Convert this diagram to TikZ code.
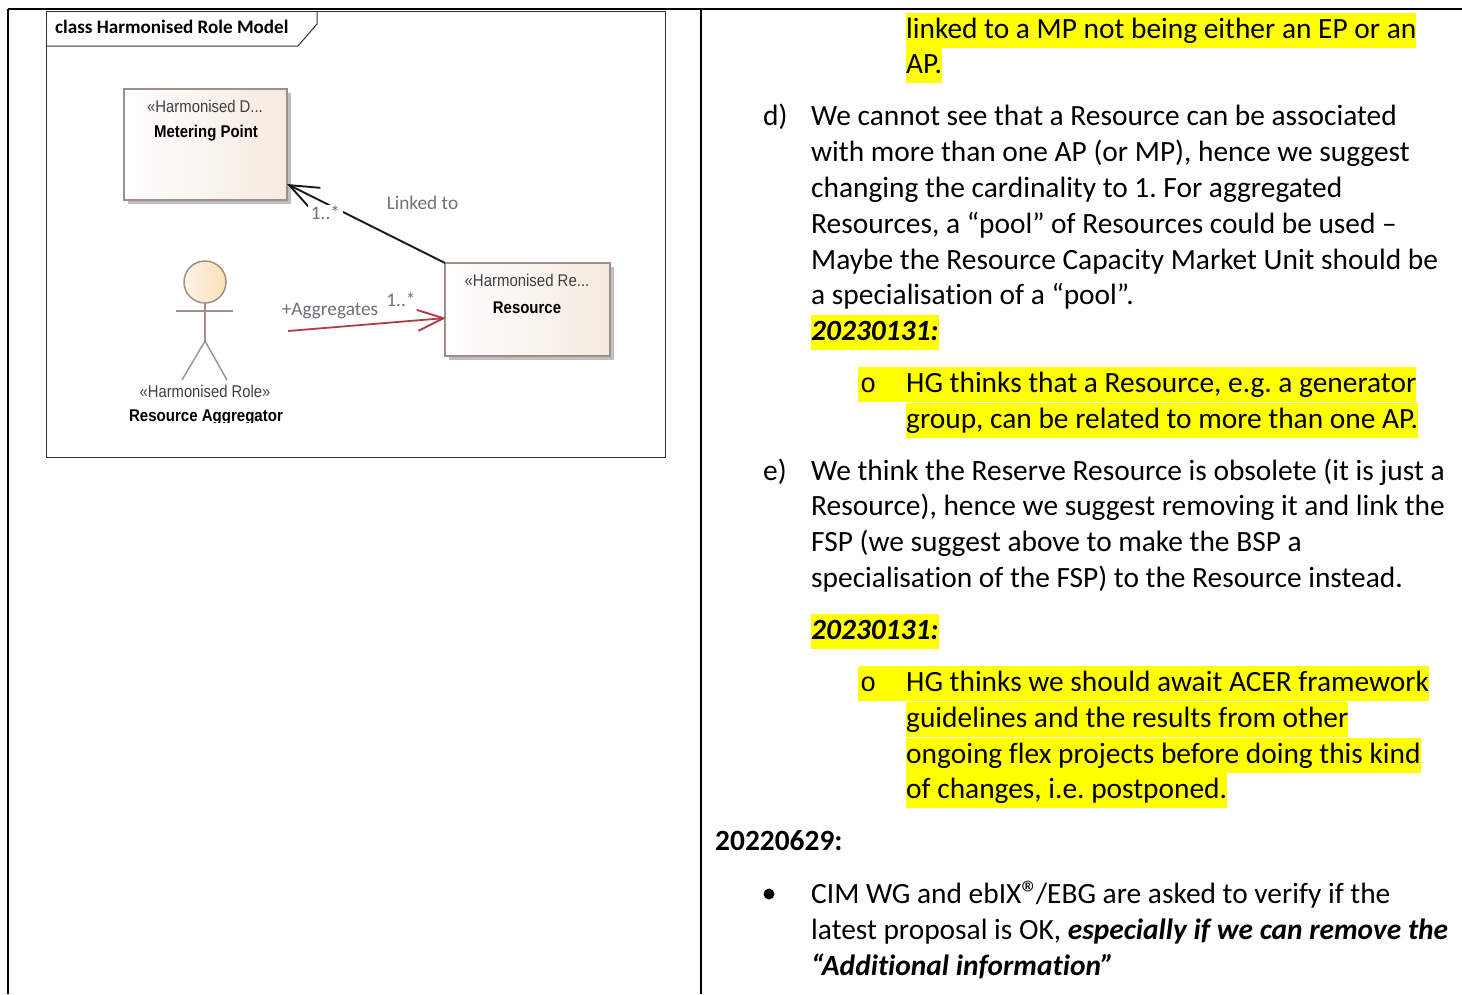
\documentclass[tikz,border=0pt]{standalone}
\usepackage{fontspec}
\setmainfont[Ligatures={NoCommon,TeX}]{Carlito}
\newfontfamily\umlfont{Liberation Sans}
\newfontfamily\monof{Liberation Mono}
\usetikzlibrary{arrows.meta,calc}
\definecolor{hly}{HTML}{FFFF00}
\definecolor{umlb}{HTML}{A08E8A}
\definecolor{umll}{HTML}{F5EADF}
\definecolor{headl}{HTML}{FDF3E6}
\definecolor{headr}{HTML}{FBE0B8}
\definecolor{lbl}{HTML}{6E7075}
\definecolor{redc}{HTML}{B23C46}
\newcommand{\bodysize}{\fontsize{29.4pt}{35.8pt}\selectfont}
\frenchspacing
\tikzset{
  txt/.style={anchor=base west,inner sep=0pt,font=\bodysize,text=black,yshift=-0.5pt},
  hl/.style={txt,fill=hly,text height=26pt,text depth=9pt},
  umlbox/.style={draw=umlb,line width=1.5pt,left color=white,right color=umll,minimum width=#1,anchor=north west,inner sep=0pt,outer sep=0pt},
  ster/.style={inner sep=0pt,font=\umlfont\fontsize{17pt}{20pt}\selectfont,text=black!75},
  nm/.style={inner sep=0pt,font=\umlfont\bfseries\fontsize{17pt}{20pt}\selectfont,text=black},
  lab/.style={inner sep=0pt,font=\fontsize{19.3pt}{22pt}\selectfont,text=lbl},
  tline/.style={line width=1.5pt,black},
  actor/.style={draw=umlb,line width=1.4pt}
}
\begin{document}
\begin{tikzpicture}[x=1pt,y=-1pt]
\useasboundingbox (0,0) rectangle (1462,994);
% table rules
\coordinate (tl) at (8,9);\coordinate (tr) at (1462,9);\coordinate (bl) at (8,994);
\coordinate (mt) at (701,9);\coordinate (mb) at (701,994);
\draw[tline] (tl) -- (tr);
\draw[tline] (tl) -- (bl);
\draw[tline] (mt) -- (mb);
% frame
\draw[line width=1pt,black!80] (46,11) rectangle (665,457);
\draw[line width=1pt,black!80] (46,46) -- (298,46) -- (317,24) -- (317,11);
\node[anchor=base west,inner sep=0pt,font=\bfseries\fontsize{19.1pt}{22pt}\selectfont] (title) at (55,33) {class Harmonised Role Model};
% boxes
\fill[black!25] (128,93) rectangle (291,204);
\fill[black!25] (449,267) rectangle (614,360);
\node[umlbox=163pt,minimum height=111pt] (mp) at (124,89) {};
\node[umlbox=165pt,minimum height=93pt] (res) at (445,263) {};
\node[ster] (mpS) at (205,106.5) {\scalebox{.875}[1]{«Harmonised D...}};
\node[nm] (mpN) at (206,133) {\scalebox{.88}[1]{Metering Point}};
\node[ster] (resS) at (527,280.5) {\scalebox{.88}[1]{«Harmonised Re...}};
\node[nm] (resN) at (527,308) {\scalebox{.88}[1]{Resource}};
% actor
\node[circle,draw=umlb,line width=1.5pt,minimum size=42pt,inner sep=0pt,left color=headl,right color=headr,outer sep=0pt] (head) at (205,282) {};
\coordinate (hip) at (205,341);
\coordinate (armL) at (176,311);\coordinate (armR) at (233,311);
\coordinate (legL) at (182,380);\coordinate (legR) at (227,380);
\draw[actor] (head.south) -- (hip);
\draw[actor] (armL) -- (armR);
\draw[actor] (legL) -- (hip) -- (legR);
\node[ster] (actS) at (205,391) {\scalebox{.87}[1]{«Harmonised Role»}};
\begin{scope}
\clip (100,405) rectangle (320,422);
\node[nm] (actN) at (206,417) {\scalebox{.885}[1]{Resource Aggregator}};
\end{scope}
% connectors
\coordinate (mpTip) at (287,184);
\coordinate (resTip) at (446,318);
\coordinate (aggStart) at (288,331);
\draw[line width=1.8pt,black!90,-{Straight Barb[length=29pt,width=23pt,line width=1.9pt]}] (res.north west) -- (mpTip);
\draw[line width=1.8pt,redc,-{Straight Barb[length=26pt,width=21pt,line width=1.9pt]}] (aggStart) -- (resTip);
\node[lab,fill=white,inner xsep=3pt,inner ysep=1pt] (mult1) at (325.5,213) {1..*};
\node[lab] (linked) at (422.5,203) {Linked to};
\node[lab] (agg) at (330,310.5) {+Aggregates};
\node[lab] (mult2) at (401,300) {1..*};
% text
\node[hl] (l1) at (906,38) {linked to a MP not being either an EP or an};
\node[hl] (l2) at (906,73) {AP.};
\node[txt] (d) at (763,125) {d)};
\node[txt] (d1) at (811,125) {We cannot see that a Resource can be associated};
\node[txt] (d2) at (811,161) {with more than one AP (or MP), hence we suggest};
\node[txt] (d3) at (811,197) {changing the cardinality to 1. For aggregated};
\node[txt] (d4) at (811,233) {Resources, a “pool” of Resources could be used –};
\node[txt] (d5) at (811,269) {Maybe the Resource Capacity Market Unit should be};
\node[txt] (d6) at (811,304) {a specialisation of a “pool”.};
\node[hl] (d7) at (811,340) {\textbf{\textit{20230131:}}};
\node[hl,text width=48pt] (b1) at (858,392) {\hspace{2pt}{\monof\fontsize{27pt}{30pt}\selectfont o}};
\node[hl] (h1) at (906,392) {HG thinks that a Resource, e.g. a generator};
\node[hl] (h2) at (906,428) {group, can be related to more than one AP.};
\node[txt] (e) at (763,480) {e)};
\node[txt] (e1) at (811,480) {We think the Reserve Resource is obsolete (it is just a};
\node[txt] (e2) at (811,515) {Resource), hence we suggest removing it and link the};
\node[txt] (e3) at (811,551) {FSP (we suggest above to make the BSP a};
\node[txt] (e4) at (811,587) {specialisation of the FSP) to the Resource instead.};
\node[hl] (e5) at (811,639) {\textbf{\textit{20230131:}}};
\node[hl,text width=48pt] (b2) at (858,691) {\hspace{2pt}{\monof\fontsize{27pt}{30pt}\selectfont o}};
\node[hl] (g1) at (906,691) {HG thinks we should await ACER framework};
\node[hl] (g2) at (906,727) {guidelines and the results from other};
\node[hl] (g3) at (906,763) {ongoing flex projects before doing this kind};
\node[hl] (g4) at (906,798) {of changes, i.e. postponed.};
\node[txt] (dt) at (715,850) {\textbf{20220629:}};
\node[circle,fill=black,inner sep=0pt,minimum size=11pt] (bul) at (769,894) {};
\node[txt] (c1) at (811,903) {CIM WG and ebIX\raisebox{-1.5pt}{\scalebox{1.2}{®}}\kern-3.5pt/EBG are asked to verify if the};
\node[txt] (c2) at (811,939) {latest proposal is OK, \textbf{\textit{especially if we can remove the}}};
\node[txt] (c3) at (811,975) {\textbf{\textit{“Additional information”}}};
\end{tikzpicture}
\end{document}
